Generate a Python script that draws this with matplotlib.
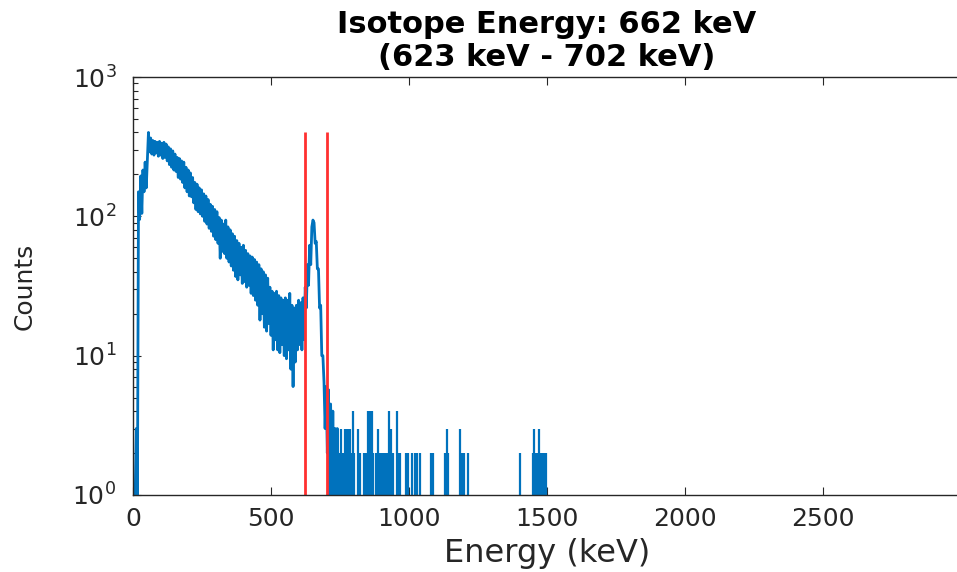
import matplotlib.pyplot as plt
import numpy as np

# spectrum (log scale, counts per 4 keV channel)
title_lines = ['Isotope Energy: 662 keV', '(623 keV - 702 keV)']
window_keV = [623, 702]
channel_start_keV = 8
channel_width_keV = 4
counts = [
    1, 3, 1, 150, 95, 195, 105, 215, 150, 245,
    160, 255, 400, 290, 365, 280, 350, 275, 345, 285,
    340, 270, 345, 275, 335, 260, 340, 265, 330, 250,
    315, 235, 305, 225, 295, 215, 280, 210, 265, 190,
    260, 185, 250, 175, 245, 160, 225, 150, 215, 140,
    205, 138, 190, 125, 175, 112, 170, 108, 160, 104,
    155, 100, 145, 92, 140, 88, 132, 82, 122, 78,
    118, 72, 112, 68, 108, 64, 98, 50, 94, 56,
    88, 54, 94, 50, 84, 47, 80, 44, 75, 41,
    72, 37, 67, 35, 64, 38, 60, 33, 62, 34,
    57, 31, 54, 32, 52, 28, 51, 27, 49, 25,
    47, 23, 45, 18, 42, 20, 40, 16, 38, 15,
    36, 17, 31, 14, 29, 11, 28, 13, 29, 11,
    27, 10.5, 26, 12, 25, 10, 26, 9.5, 25, 11,
    28, 8, 23, 6, 22, 9, 23, 11, 25, 12,
    24, 11, 26, 13, 31, 22, 45, 32, 62, 45,
    84, 94, 90, 64, 66, 42, 42, 22, 23, 10,
    10, 6.5, 3, 6, 2, 5.7, 1, 4.5, 1, 4,
    1, 3, 1, 3, 1,
]
tail_keV = [747, 754, 760, 768, 774, 780, 786, 792, 796, 802,
            816, 822, 837, 843, 853, 859, 865, 871, 880, 889,
            895, 901, 907, 913, 919, 925, 929, 933, 937, 943,
            955, 961, 967, 989, 998, 1010, 1022, 1028, 1040, 1080,
            1086, 1130, 1137, 1143, 1185, 1192, 1198, 1215, 1402, 1448,
            1454, 1460, 1466, 1472, 1477, 1484, 1491, 1496]
tail_counts = [2, 3, 2, 3, 3, 3, 3, 2, 4, 2,
               3, 2, 2, 2, 4, 4, 4, 2, 2, 3,
               2, 2, 2, 2, 2, 2, 4, 3, 2, 2,
               4, 2, 2, 2, 2, 2, 2, 2, 2, 2,
               2, 2, 3, 2, 3, 2, 2, 2, 2, 2,
               3, 2, 2, 3, 2, 2, 2, 2]
x_ticks = [0, 500, 1000, 1500, 2000, 2500]

energy = channel_start_keV + channel_width_keV * np.arange(len(counts))

blue = '#0072BD'
dark = '#262626'

fig = plt.figure(figsize=(9.57, 5.72), dpi=100)
ax = fig.add_axes([133 / 957, 77 / 572, 828 / 957, 418 / 572])

ax.semilogy(energy, counts, color=blue, lw=2.0)
ax.vlines(tail_keV, 1, tail_counts, color=blue, lw=1.6)
ax.vlines(window_keV, 1, max(counts), color='#ff3030', lw=2.0)

ax.set_xlim(0, 3000)
ax.set_ylim(1, 1000)
ax.set_xticks(x_ticks)

ax.tick_params(which='both', direction='in', top=True, right=False,
               colors=dark, labelsize=18, width=0.8)
ax.tick_params(which='major', length=6)
ax.tick_params(which='minor', length=3.5)
ax.tick_params(axis='x', pad=9)
ax.tick_params(axis='y', pad=12)
ax.spines['right'].set_visible(False)
for s in ax.spines.values():
    s.set_color(dark)
    s.set_linewidth(1.0)

ax.set_title('\n'.join(title_lines), fontsize=22, fontweight='bold',
             color='black', pad=8, linespacing=1.15)
ax.set_xlabel('Energy (keV)', fontsize=23, color=dark, labelpad=5)
ax.set_ylabel('Counts', fontsize=18, color=dark, labelpad=26)

fig.savefig('out.png', dpi=100)
